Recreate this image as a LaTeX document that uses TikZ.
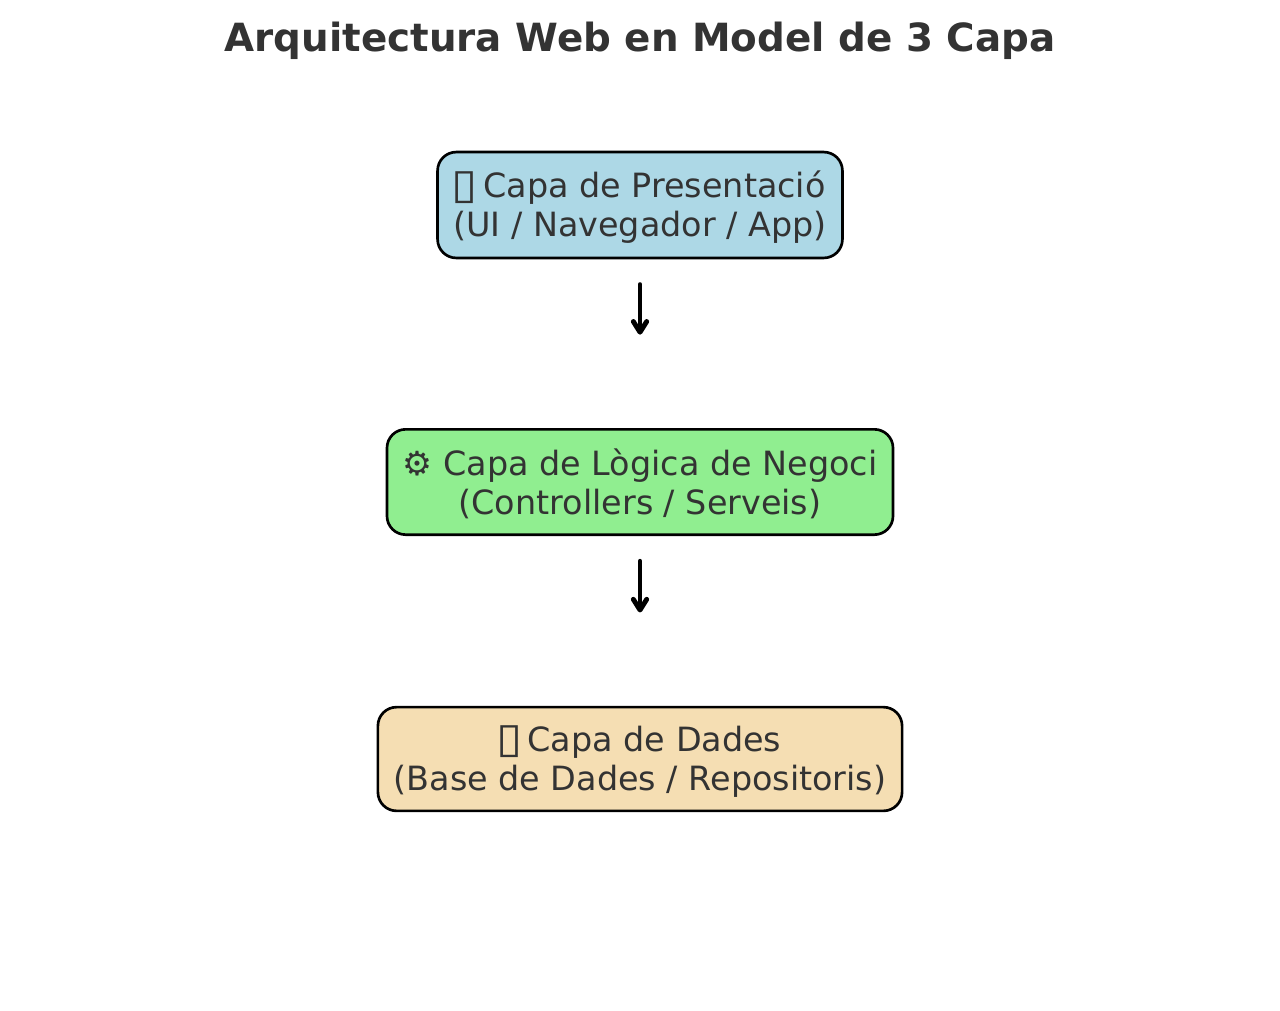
\documentclass[tikz,border=0pt]{standalone}
\usepackage{fontspec}
\setmainfont{DejaVu Sans}
\usetikzlibrary{arrows.meta, positioning}

\definecolor{inkgray}{HTML}{333333}
\definecolor{lightblue}{HTML}{ADD8E6}
\definecolor{lightgreen}{HTML}{90EE90}
\definecolor{wheatbox}{HTML}{F5DEB3}

\newcommand{\tofu}{\makebox[0pt][l]{\hspace{-1.8pt}\smash{\raisebox{-0.7pt}{\scalebox{1.42}[1.25]{▯}}}}\phantom{▯}}
\newcommand{\topstrut}{\rule{0pt}{22.9pt}}

\tikzset{
    capa/.style={draw=black, line width=2pt, rounded corners=14pt, align=center,
        text=inkgray, inner xsep=11.8pt, inner ysep=11.2pt,
        font=\fontsize{25.05}{28.9}\selectfont},
    flow/.style={->, >={Straight Barb[length=8pt, width=10pt, round, line width=3.7pt]}, line width=3.7pt,
        line cap=round, draw=black, shorten <=19pt, shorten >=70pt}
}

\begin{document}
\begin{tikzpicture}[x=0.75pt, y=-0.75pt, node distance=207.75pt, on grid]

        \useasboundingbox (0,0) rectangle (1280,1010);

        \node[text=inkgray, font=\fontsize{29.12}{34}\selectfont\bfseries] (title) at (640,41) {Arquitectura Web en Model de 3 Capa};

        \node[capa, fill=lightblue] (presentacio) at (640,205) {\topstrut\tofu{} Capa de Presentació\\(UI / Navegador / App)};
        \node[capa, fill=lightgreen, inner ysep=11.95pt, below=of presentacio] (logica) {\topstrut⚙ Capa de Lògica de Negoci\\(Controllers / Serveis)};
        \node[capa, fill=wheatbox, inner ysep=10.4pt, below=of logica] (dades) {\topstrut\tofu{} Capa de Dades\\(Base de Dades / Repositoris)};

        \path[flow]
            (presentacio) edge (logica)
            (logica) edge (dades);

        \end{tikzpicture}
\end{document}
